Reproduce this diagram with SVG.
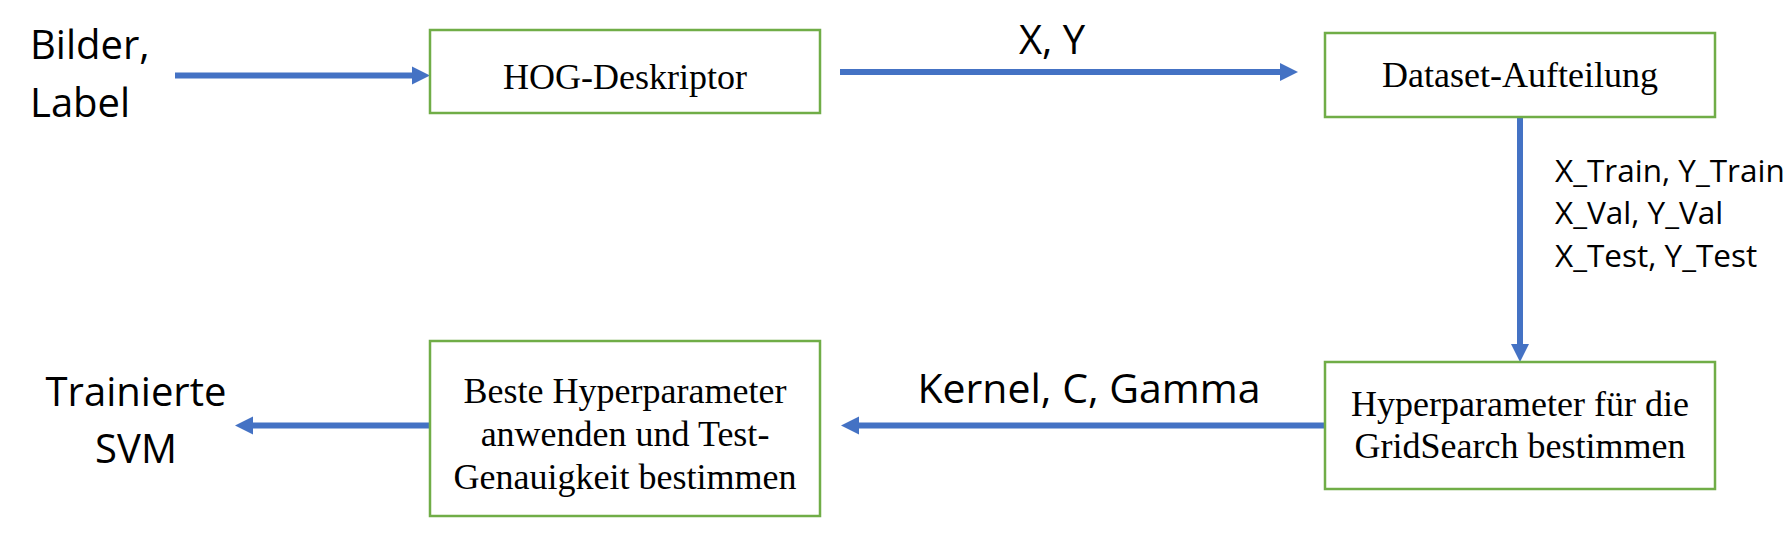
<svg xmlns="http://www.w3.org/2000/svg" width="1791" height="537" viewBox="0 0 1791 537">
  <style>
    .box { fill: #ffffff; stroke: #70AD47; stroke-width: 2.5; }
    .serif { font-family: "Liberation Serif", "Times New Roman", serif; font-size: 36px; fill: #000; text-anchor: middle; }
    .sans { font-family: "Open Sans", "Noto Sans", sans-serif; fill: #000; }
    .big { font-size: 40px; }
    .small { font-size: 31.5px; }
    .conn { stroke: #4472C4; stroke-width: 6; fill: none; marker-end: url(#arrow); }
  </style>
  <defs>
    <marker id="arrow" markerUnits="userSpaceOnUse" markerWidth="19" markerHeight="19" refX="0" refY="9" orient="auto" overflow="visible">
      <path d="M0,0 L18,9 L0,18 z" fill="#4472C4"/>
    </marker>
  </defs>
  <rect width="1791" height="537" fill="#ffffff"/>

  <g id="connectors">
    <line class="conn" x1="175" y1="75.5" x2="412" y2="75.5"/>
    <line class="conn" x1="840" y1="72" x2="1280" y2="72"/>
    <line class="conn" x1="1520" y1="117" x2="1520" y2="344"/>
    <line class="conn" x1="1325" y1="425.5" x2="859" y2="425.5"/>
    <line class="conn" x1="430" y1="425.5" x2="253" y2="425.5"/>
  </g>

  <g id="labels">
    <text class="sans big" x="30" y="59">Bilder,</text>
    <text class="sans big" x="30" y="117">Label</text>
    <text class="sans big" x="1052" y="54" text-anchor="middle">X, Y</text>
    <text class="sans small" x="1555" y="182">X_Train, Y_Train</text>
    <text class="sans small" x="1555" y="224">X_Val, Y_Val</text>
    <text class="sans small" x="1555" y="267">X_Test, Y_Test</text>
    <text class="sans" font-size="41" x="1089" y="403" text-anchor="middle">Kernel, C, Gamma</text>
    <text class="sans big" x="136" y="406" text-anchor="middle">Trainierte</text>
    <text class="sans big" x="136" y="463" text-anchor="middle">SVM</text>
  </g>

  <g id="node-hog">
    <rect class="box" x="430" y="30" width="390" height="83"/>
    <text class="serif" x="625" y="89">HOG-Deskriptor</text>
  </g>

  <g id="node-dataset">
    <rect class="box" x="1325" y="33" width="390" height="84"/>
    <text class="serif" x="1520" y="87">Dataset-Aufteilung</text>
  </g>

  <g id="node-gridsearch">
    <rect class="box" x="1325" y="362" width="390" height="127"/>
    <text class="serif" x="1520" y="416">Hyperparameter für die</text>
    <text class="serif" x="1520" y="458">GridSearch bestimmen</text>
  </g>

  <g id="node-beste">
    <rect class="box" x="430" y="341" width="390" height="175"/>
    <text class="serif" x="625" y="403">Beste Hyperparameter</text>
    <text class="serif" x="625" y="446">anwenden und Test-</text>
    <text class="serif" x="625" y="489">Genauigkeit bestimmen</text>
  </g>
</svg>
